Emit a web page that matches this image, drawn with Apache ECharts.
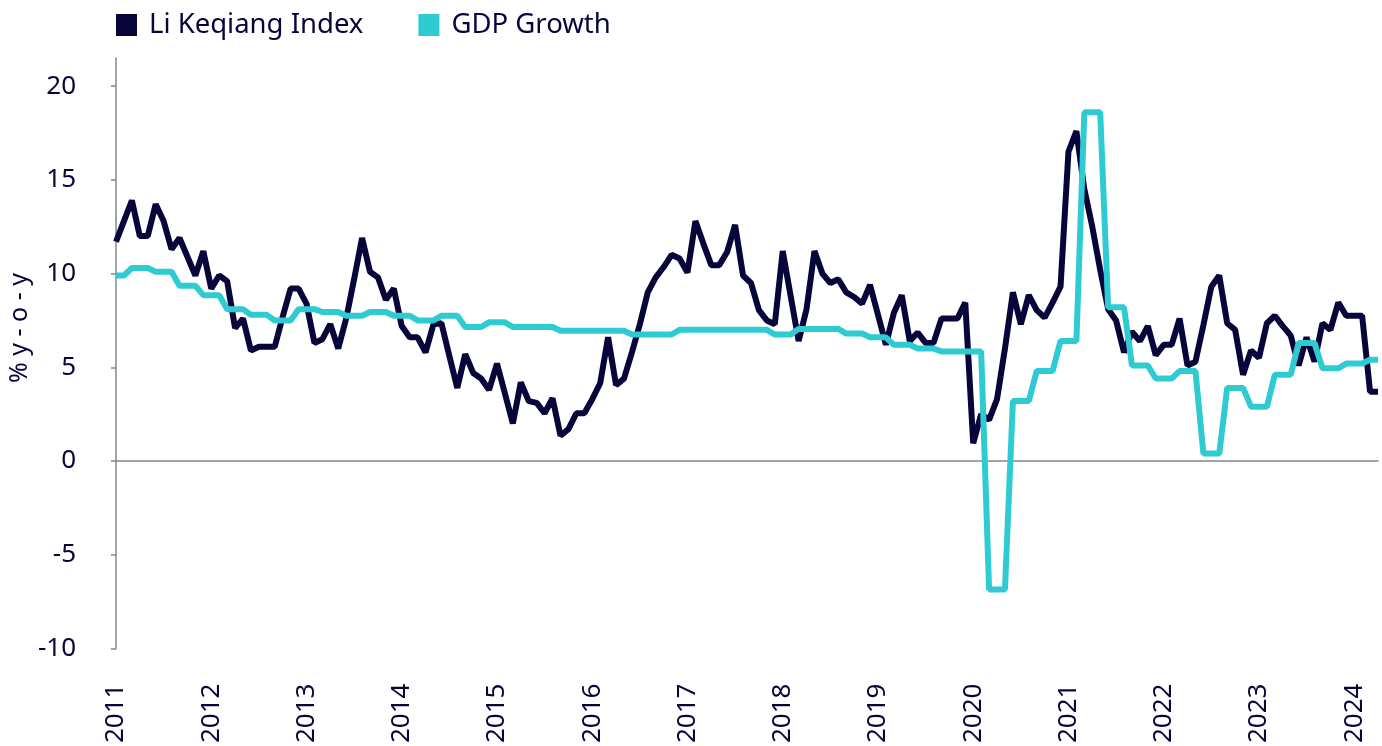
<!DOCTYPE html>
<html>
<head>
<meta charset="utf-8">
<title>Li Keqiang Index vs GDP Growth</title>
<script src="https://cdn.jsdelivr.net/npm/echarts@6/dist/echarts.min.js"></script>
<style>
  html, body { margin: 0; padding: 0; background: #fff; }
  #chart { width: 1382px; height: 746px; }
</style>
</head>
<body>
<div id="chart"></div>
<script>
// years shown on the x axis (monthly data, Jan 2011 - Apr 2024)
const years = ['2011','2012','2013','2014','2015','2016','2017','2018','2019','2020','2021','2022','2023','2024'];
const lastMonth = 4; // data runs to April 2024

// Li Keqiang index, % y-o-y, monthly from Jan 2011
const liKeqiang = [
  11.7, 12.8, 13.9, 12.0, 12.0, 13.7, 12.8, 11.3, 11.9, 10.9, 9.9, 11.2,   // 2011
  9.2, 9.9, 9.6, 7.1, 7.6, 5.9, 6.1, 6.1, 6.1, 7.7, 9.2, 9.2,              // 2012
  8.4, 6.3, 6.5, 7.3, 6.0, 7.6, 9.7, 11.9, 10.1, 9.8, 8.6, 9.2,            // 2013
  7.2, 6.6, 6.6, 5.8, 7.3, 7.35, 5.6, 3.9, 5.7, 4.7, 4.4, 3.8,             // 2014
  5.2, 3.6, 2.0, 4.2, 3.2, 3.1, 2.55, 3.35, 1.35, 1.7, 2.55, 2.55,         // 2015
  3.3, 4.15, 6.6, 4.05, 4.4, 5.8, 7.3, 9.0, 9.8, 10.35, 11.0, 10.8,        // 2016
  10.05, 12.8, 11.6, 10.45, 10.45, 11.15, 12.6, 9.9, 9.5, 8.05, 7.5, 7.3,  // 2017
  11.2, 8.8, 6.4, 8.1, 11.2, 10.0, 9.5, 9.7, 9.0, 8.75, 8.4, 9.4,          // 2018
  7.8, 6.2, 7.9, 8.85, 6.4, 6.85, 6.3, 6.3, 7.6, 7.6, 7.6, 8.45,           // 2019
  0.95, 2.5, 2.2, 3.3, 6.0, 9.0, 7.3, 8.85, 8.05, 7.65, 8.45, 9.3,         // 2020
  16.5, 17.6, 14.5, 12.5, 10.2, 8.1, 7.5, 5.8, 6.9, 6.4, 7.2, 5.65,        // 2021
  6.2, 6.2, 7.6, 5.1, 5.3, 7.25, 9.3, 9.9, 7.35, 7.0, 4.6, 5.9,            // 2022
  5.5, 7.35, 7.75, 7.2, 6.7, 5.1, 6.6, 5.3, 7.35, 7.0, 8.45, 7.75,         // 2023
  7.75, 7.75, 3.7, 3.7                                                     // 2024
];

// real GDP growth, % y-o-y, quarterly: Q4 2010 ... Q1 2024
const gdpQuarterly = [
  9.9,
  10.3, 10.1, 9.35, 8.85,   // 2011
  8.1, 7.8, 7.5, 8.1,       // 2012
  7.95, 7.75, 7.95, 7.75,   // 2013
  7.5, 7.75, 7.15, 7.4,     // 2014
  7.15, 7.15, 6.95, 6.95,   // 2015
  6.95, 6.75, 6.75, 7.0,    // 2016
  7.0, 7.0, 7.0, 6.75,      // 2017
  7.05, 7.05, 6.8, 6.6,     // 2018
  6.2, 6.0, 5.85, 5.85,     // 2019
  -6.85, 3.2, 4.8, 6.4,     // 2020
  18.6, 8.2, 5.1, 4.4,      // 2021
  4.8, 0.4, 3.9, 2.9,       // 2022
  4.6, 6.3, 4.95, 5.2,      // 2023
  5.4                       // 2024
];

const yTicks = [-10, -5, 0, 5, 10, 15, 20];

const NAVY = '#07053a';
const CYAN = '#2ecbd3';
const AXIS = '#80878f';
const FONT = '"Noto Sans", sans-serif';

// month categories
const months = [];
years.forEach(function (y, k) {
  const n = (k === years.length - 1) ? lastMonth : 12;
  for (let m = 1; m <= n; m++) months.push(y + '-' + (m < 10 ? '0' + m : m));
});

// each quarter's figure is shown from its final month through the next two months
const gdpMonthly = [];
for (let m = 0; m < months.length; m++) {
  const q = Math.floor((m + 1) / 3);
  gdpMonthly.push(q < gdpQuarterly.length ? gdpQuarterly[q] : null);
}

const myChart = echarts.init(document.getElementById('chart'));
myChart.setOption({
  animation: false,
  textStyle: { fontFamily: FONT },
  legend: {
    left: 111,
    top: 6,
    icon: 'rect',
    itemWidth: 21,
    itemHeight: 22,
    itemGap: 55,
    textStyle: { fontSize: 27.5, color: NAVY, fontFamily: FONT, padding: [0, 0, 0, 7] },
    data: ['Li Keqiang Index', 'GDP Growth']
  },
  graphic: [{
    type: 'text',
    x: 7,
    y: 328,
    rotation: Math.PI / 2,
    style: {
      text: '% y - o - y',
      font: '25px "Noto Sans", sans-serif',
      fill: NAVY,
      align: 'center',
      verticalAlign: 'top'
    }
  }],
  grid: { left: 116, right: 4, top: 58, bottom: 96 },
  xAxis: {
    type: 'category',
    data: months,
    boundaryGap: false,
    axisLine: { lineStyle: { color: AXIS, width: 1.5 } },
    axisTick: { show: false },
    axisLabel: {
      interval: 11,
      rotate: 90,
      margin: 35,
      fontSize: 26,
      color: NAVY,
      fontFamily: FONT,
      formatter: function (v) { return v.slice(0, 4); }
    },
    splitLine: { show: false }
  },
  yAxis: {
    type: 'value',
    min: -10,
    max: 21.5,
    axisLine: { show: true, lineStyle: { color: AXIS, width: 1.5 } },
    axisTick: { show: true, length: 5, customValues: yTicks, lineStyle: { color: AXIS, width: 1.5 } },
    axisLabel: { customValues: yTicks, margin: 40, fontSize: 26, color: NAVY, fontFamily: FONT },
    splitLine: { show: false }
  },
  series: [
    {
      name: 'Li Keqiang Index',
      type: 'line',
      data: liKeqiang,
      symbol: 'none',
      lineStyle: { color: NAVY, width: 6 },
      itemStyle: { color: NAVY }
    },
    {
      name: 'GDP Growth',
      type: 'line',
      data: gdpMonthly,
      symbol: 'none',
      lineStyle: { color: CYAN, width: 6 },
      itemStyle: { color: CYAN }
    }
  ]
});
</script>
</body>
</html>
